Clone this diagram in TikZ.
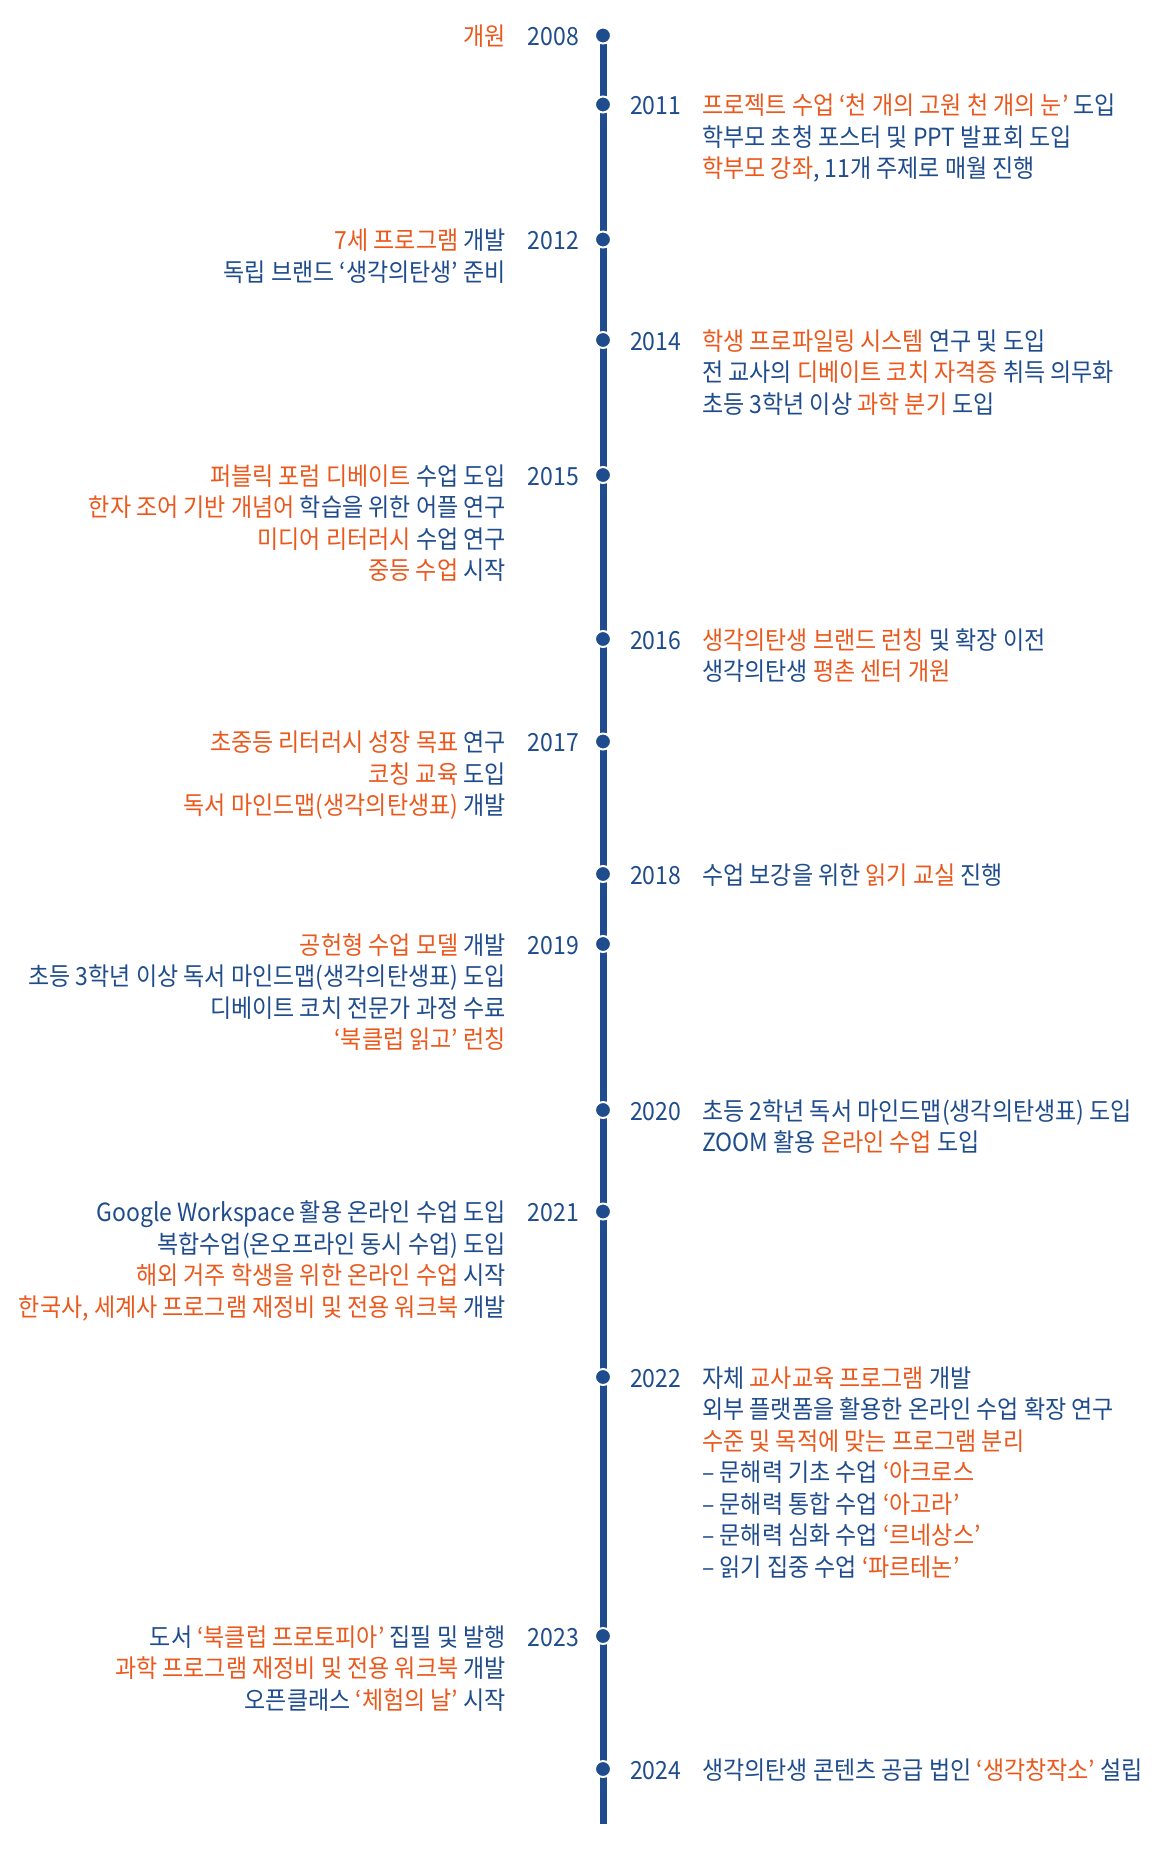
\documentclass[tikz,border=0pt]{standalone}
\usepackage{fontspec}
\newfontfamily\kofont[FakeStretch=0.92]{Noto Sans CJK KR}
\definecolor{tlblue}{RGB}{30,76,140}
\definecolor{tlorange}{RGB}{234,88,28}
\newcommand{\hlo}[1]{{\color{tlorange}#1}}
\tikzset{
  txt/.style={font=\kofont\fontsize{25}{31.5}\selectfont,text=tlblue,inner sep=0pt},
  ltxt/.style={txt,anchor=base east,align=right},
  rtxt/.style={txt,anchor=base west,align=left},
  tldot/.style={circle,fill=tlblue,draw=white,line width=2pt,minimum size=16pt,inner sep=0pt}
}
\begin{document}
\begin{tikzpicture}[x=1pt,y=-1pt]
\useasboundingbox (0,0) rectangle (1160,1855);
% time line
\coordinate (top) at (603,35.5);
\coordinate (lineend) at (603,1824);
\draw[tlblue,line width=7pt] (top) -- (lineend);
\foreach \yr/\y in {2008/35.5,2011/104.5,2012/239.5,2014/340,2015/475,2016/639,2017/741.5,
  2018/874,2019/944,2020/1110,2021/1211.5,2022/1377,2023/1636,2024/1769}
  \node[tldot] (d\yr) at (603,\y) {};

% texts: base anchor is on the last line
% 2008
\node[ltxt] (y2008) at (579,45.5) {2008};
\node[ltxt] (t2008) at (506,45.5) {\hlo{개원}};
% 2011
\node[rtxt] (y2011) at (630,114.5) {2011};
\node[rtxt] (t2011) at (702,177.5) {\hlo{프로젝트 수업 ‘천 개의 고원 천 개의 눈’} 도입\\
  학부모 초청 포스터 및 PPT 발표회 도입\\
  \hlo{학부모 강좌}, 11개 주제로 매월 진행};
% 2012
\node[ltxt] (y2012) at (579,249.5) {2012};
\node[ltxt] (t2012) at (506,281) {\hlo{7세 프로그램} 개발\\
  독립 브랜드 ‘생각의탄생’ 준비};
% 2014
\node[rtxt] (y2014) at (630,350) {2014};
\node[rtxt] (t2014) at (702,413) {\hlo{학생 프로파일링 시스템} 연구 및 도입\\
  전 교사의 \hlo{디베이트 코치 자격증} 취득 의무화\\
  초등 3학년 이상 \hlo{과학 분기} 도입};
% 2015
\node[ltxt] (y2015) at (579,485) {2015};
\node[ltxt] (t2015) at (506,579.5) {\hlo{퍼블릭 포럼 디베이트} 수업 도입\\
  \hlo{한자 조어 기반 개념어} 학습을 위한 어플 연구\\
  \hlo{미디어 리터러시} 수업 연구\\
  \hlo{중등 수업} 시작};
% 2016
\node[rtxt] (y2016) at (630,649) {2016};
\node[rtxt] (t2016) at (702,680.5) {\hlo{생각의탄생 브랜드 런칭} 및 확장 이전\\
  생각의탄생 \hlo{평촌 센터 개원}};
% 2017
\node[ltxt] (y2017) at (579,751.5) {2017};
\node[ltxt] (t2017) at (506,814.5) {\hlo{초중등 리터러시 성장 목표} 연구\\
  \hlo{코칭 교육} 도입\\
  \hlo{독서 마인드맵(생각의탄생표)} 개발};
% 2018
\node[rtxt] (y2018) at (630,884) {2018};
\node[rtxt] (t2018) at (702,884) {수업 보강을 위한 \hlo{읽기 교실} 진행};
% 2019
\node[ltxt] (y2019) at (579,954) {2019};
\node[ltxt] (t2019) at (506,1048.5) {\hlo{공헌형 수업 모델} 개발\\
  초등 3학년 이상 독서 마인드맵(생각의탄생표) 도입\\
  디베이트 코치 전문가 과정 수료\\
  \hlo{‘북클럽 읽고’ 런칭}};
% 2020
\node[rtxt] (y2020) at (630,1120) {2020};
\node[rtxt] (t2020) at (702,1151.5) {초등 2학년 독서 마인드맵(생각의탄생표) 도입\\
  ZOOM 활용 \hlo{온라인 수업} 도입};
% 2021
\node[ltxt] (y2021) at (579,1221.5) {2021};
\node[ltxt] (t2021) at (506,1316) {Google Workspace 활용 온라인 수업 도입\\
  복합수업(온오프라인 동시 수업) 도입\\
  \hlo{해외 거주 학생을 위한 온라인 수업} 시작\\
  \hlo{한국사, 세계사 프로그램 재정비 및 전용 워크북} 개발};
% 2022
\node[rtxt] (y2022) at (630,1387) {2022};
\node[rtxt] (t2022) at (702,1576) {자체 \hlo{교사교육 프로그램} 개발\\
  외부 플랫폼을 활용한 온라인 수업 확장 연구\\
  \hlo{수준 및 목적에 맞는 프로그램 분리}\\
  – 문해력 기초 수업 \hlo{‘아크로스}\\
  – 문해력 통합 수업 \hlo{‘아고라’}\\
  – 문해력 심화 수업 \hlo{‘르네상스’}\\
  – 읽기 집중 수업 \hlo{‘파르테논’}};
% 2023
\node[ltxt] (y2023) at (579,1646) {2023};
\node[ltxt] (t2023) at (506,1709) {도서 \hlo{‘북클럽 프로토피아’} 집필 및 발행\\
  \hlo{과학 프로그램 재정비 및 전용 워크북} 개발\\
  오픈클래스 \hlo{‘체험의 날’} 시작};
% 2024
\node[rtxt] (y2024) at (630,1779) {2024};
\node[rtxt] (t2024) at (702,1779) {생각의탄생 콘텐츠 공급 법인 \hlo{‘생각창작소’} 설립};
\end{tikzpicture}
\end{document}
